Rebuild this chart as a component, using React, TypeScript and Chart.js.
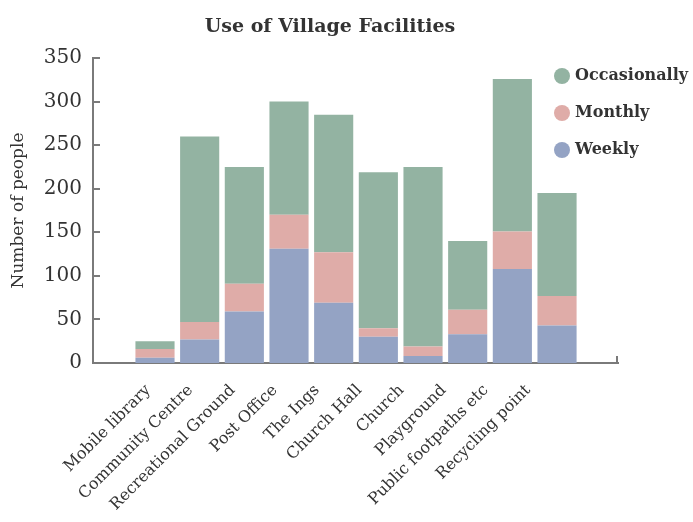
import React, { useEffect, useRef } from "react";
import { Chart, registerables } from "chart.js";

Chart.register(...registerables);

const categories = [
  "Mobile library",
  "Community Centre",
  "Recreational Ground",
  "Post Office",
  "The Ings",
  "Church Hall",
  "Church",
  "Playground",
  "Public footpaths etc",
  "Recycling point",
];
const weekly = [6, 27, 59, 131, 69, 30, 8, 33, 108, 43];
const monthly = [10, 20, 32, 39, 58, 10, 11, 28, 43, 34];
const occasionally = [9, 213, 134, 130, 158, 179, 206, 79, 175, 118];
const yTicks = [0, 50, 100, 150, 200, 250, 300, 350];

const seriesNames = ["Weekly", "Monthly", "Occasionally"];
const seriesColors = ["#94a3c4", "#dfaca8", "#93b3a2"];

const FONT = "'DejaVu Serif', serif";
const TEXT = "#333333";
const AXIS = "#7a7a7a";

// x-axis layout (in category units)
const X_MIN = -1.388;
const X_MAX = 10.365;
const LABEL_START = -0.15;
const LABEL_STEP = 0.945;

const axisDecor = {
  id: "axisDecor",
  afterDraw(chart: any) {
    const { ctx, chartArea, scales } = chart;
    const y = scales.y;
    ctx.save();
    ctx.strokeStyle = AXIS;
    ctx.lineWidth = 2;
    ctx.beginPath();
    y.ticks.forEach((t: any) => {
      const py = Math.round(y.getPixelForValue(t.value));
      ctx.moveTo(chartArea.left, py);
      ctx.lineTo(chartArea.left + 7, py);
    });
    ctx.moveTo(chartArea.right - 1, chartArea.bottom);
    ctx.lineTo(chartArea.right - 1, chartArea.bottom - 7);
    ctx.stroke();

    // legend
    const items = chart.data.datasets
      .map((d: any) => ({ label: d.label, color: d.backgroundColor }))
      .reverse();
    ctx.font = `bold 16px ${FONT}`;
    ctx.textBaseline = "middle";
    ctx.textAlign = "left";
    items.forEach((it: any, i: number) => {
      const cy = 76 + i * 37;
      ctx.fillStyle = it.color;
      ctx.beginPath();
      ctx.arc(562, cy, 8, 0, Math.PI * 2);
      ctx.fill();
      ctx.fillStyle = TEXT;
      ctx.fillText(it.label, 575, cy);
    });
    ctx.restore();
  },
};

export default function App() {
  const ref = useRef<HTMLCanvasElement>(null);
  useEffect(() => {
    document.body.style.margin = "0";
    const values = [weekly, monthly, occasionally];
    const chart = new Chart(ref.current as HTMLCanvasElement, {
      type: "bar",
      data: {
        datasets: values.map((v, i) => ({
          label: seriesNames[i],
          data: v.map((val, j) => ({ x: j, y: val })),
          backgroundColor: seriesColors[i],
          barPercentage: 0.927,
          categoryPercentage: 1,
        })),
      },
      options: {
        animation: false,
        responsive: false,
        devicePixelRatio: 1,
        layout: { padding: { left: 0, right: 33, top: 0, bottom: 0 } },
        plugins: {
          legend: { display: false },
          tooltip: { enabled: false },
          title: {
            display: true,
            text: "Use of Village Facilities",
            color: TEXT,
            font: { family: FONT, size: 19, weight: "bold", lineHeight: 1.2 },
            padding: { top: 16, bottom: 19.2 },
          },
        },
        scales: {
          x: {
            type: "linear",
            stacked: true,
            offset: false,
            min: X_MIN,
            max: X_MAX,
            grid: { display: false, drawTicks: false, offset: false },
            border: { display: true, color: AXIS, width: 2 },
            afterBuildTicks: (s: any) => {
              s.ticks = categories.map((_, i) => ({ value: LABEL_START + i * LABEL_STEP }));
            },
            ticks: {
              autoSkip: false,
              maxRotation: 45,
              minRotation: 45,
              color: TEXT,
              padding: 18,
              font: { family: FONT, size: 16 },
              callback: (_v: any, i: number) => categories[i],
            },
            afterFit: (s: any) => {
              s.height = 522 - 363;
            },
          },
          y: {
            stacked: true,
            min: 0,
            max: 350,
            grid: { display: false, drawTicks: false },
            border: { display: true, color: AXIS, width: 2 },
            afterBuildTicks: (s: any) => {
              s.ticks = yTicks.map((v) => ({ value: v }));
            },
            ticks: {
              color: TEXT,
              padding: 11,
              font: { family: FONT, size: 20 },
            },
            title: {
              display: true,
              text: "Number of people",
              color: TEXT,
              font: { family: FONT, size: 17 },
              padding: { top: 8, bottom: 0 },
            },
            afterFit: (s: any) => {
              s.width = 93;
            },
          },
          legendSpace: {
            type: "linear",
            position: "right",
            display: true,
            grid: { display: false, drawTicks: false },
            border: { display: false },
            ticks: { display: false },
            afterFit: (s: any) => {
              s.width = 42;
            },
          },
        },
      },
      plugins: [axisDecor],
    });
    return () => chart.destroy();
  }, []);
  return (
    <div style={{ width: 693, height: 522 }}>
      <canvas ref={ref} width={693} height={522} />
    </div>
  );
}
